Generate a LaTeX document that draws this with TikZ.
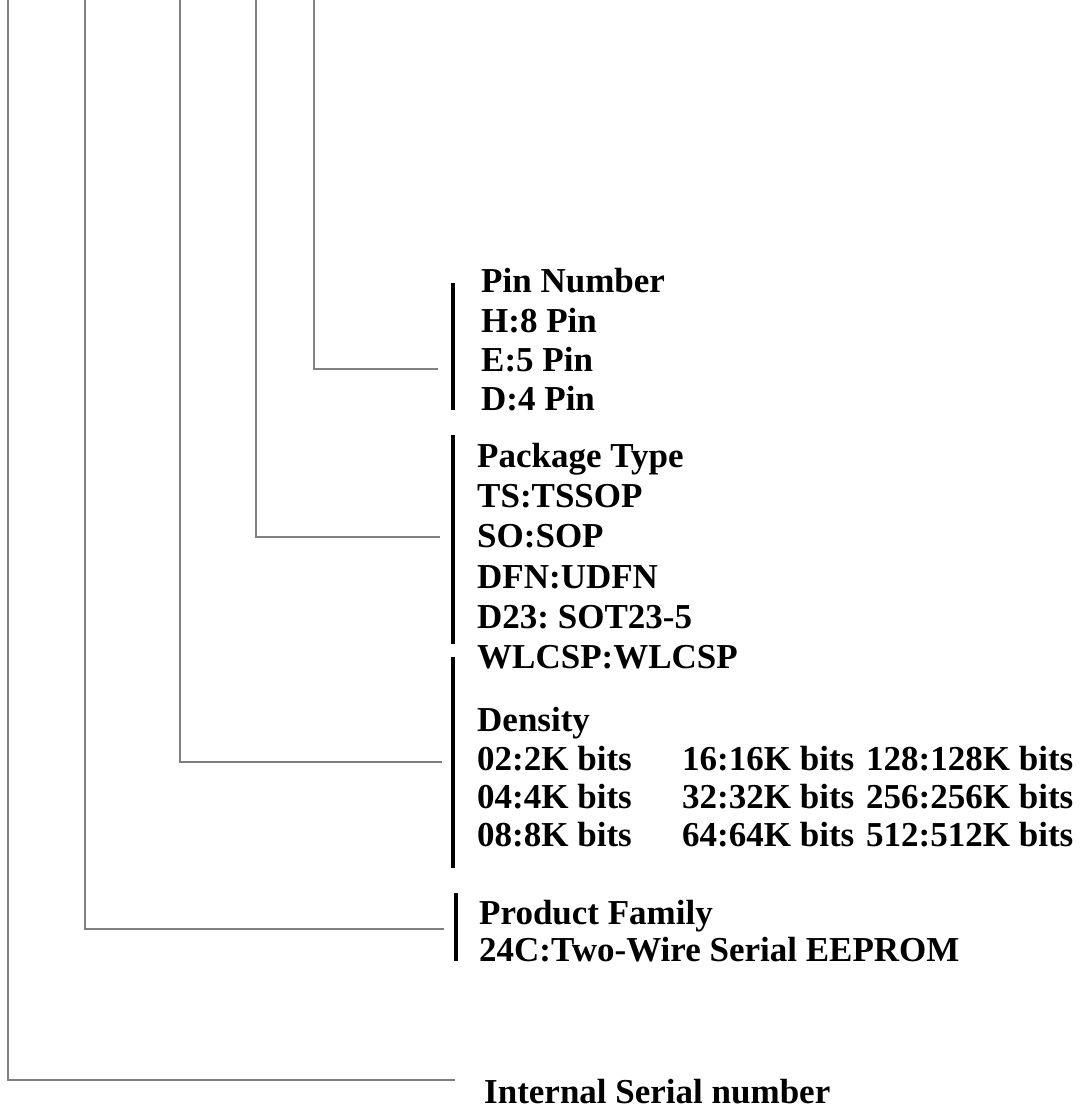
\documentclass[tikz,border=0pt]{standalone}
\usepackage{fontspec}
\setmainfont{Liberation Serif}
\usetikzlibrary{positioning}
\frenchspacing

\begin{document}
\begin{tikzpicture}[
    x=1pt, y=-1pt,
    entry/.style={anchor=base west, inner sep=0pt, font=\fontsize{35}{40}\selectfont\bfseries},
    bracket/.style={line width=3.5pt, black},
    leader/.style={line width=2pt, black!50}
]
\useasboundingbox (0,0) rectangle (1082,1115);

% Pin Number
\node [entry] (pin_title) at (481,292) {Pin Number};
\node [entry] (pin_h) at (481,332) {H:8 Pin};
\node [entry] (pin_e) at (481,371) {E:5 Pin};
\node [entry] (pin_d) at (481,410) {D:4 Pin};

% Package Type
\node [entry] (pkg_title) at (477,467) {Package Type};
\node [entry] (pkg_ts) at (477,507) {TS:TSSOP};
\node [entry] (pkg_so) at (477,547) {SO:SOP};
\node [entry] (pkg_dfn) at (477,588) {DFN:UDFN};
\node [entry] (pkg_d23) at (477,628) {D23: SOT23-5};
\node [entry] (pkg_wl) at (477,668) {WLCSP:WLCSP};

% Density
\node [entry] (den_title) at (477,731) {Density};
\node [entry] (den_02) at (477,770) {02:2K bits};
\node [entry] (den_04) at (477,808) {04:4K bits};
\node [entry] (den_08) at (477,846) {08:8K bits};
\node [entry] (den_16) at (682,770) {16:16K bits};
\node [entry] (den_32) at (682,808) {32:32K bits};
\node [entry] (den_64) at (682,846) {64:64K bits};
\node [entry] (den_128) at (866,770) {128:128K bits};
\node [entry] (den_256) at (866,808) {256:256K bits};
\node [entry] (den_512) at (866,846) {512:512K bits};

% Product Family
\node [entry] (fam_title) at (479,924) {Product Family};
\node [entry] (fam_24c) at (479,961) {24C:Two-Wire Serial EEPROM};

% Internal Serial number
\node [entry] (serial) at (484,1103) {Internal Serial number};

% Bracket ends and tap points
\coordinate (pin_top) at (453,283);
\coordinate (pin_bot) at (453,410);
\coordinate (pkg_top) at (453,435);
\coordinate (pkg_bot) at (453,644);
\coordinate (den_top) at (453,657);
\coordinate (den_bot) at (453,868);
\coordinate (fam_top) at (456,893);
\coordinate (fam_bot) at (456,961);

\coordinate (pin_tap) at (438,369);
\coordinate (pkg_tap) at (440,537);
\coordinate (den_tap) at (442,762);
\coordinate (fam_tap) at (444,929);
\coordinate (serial_tap) at (455,1080);

% Leader tops
\coordinate (pin_lead) at (314,0);
\coordinate (pkg_lead) at (256,0);
\coordinate (den_lead) at (180,0);
\coordinate (fam_lead) at (85,0);
\coordinate (serial_lead) at (8,0);

% Brackets
\draw [bracket] (pin_top) -- (pin_bot);
\draw [bracket] (pkg_top) -- (pkg_bot);
\draw [bracket] (den_top) -- (den_bot);
\draw [bracket] (fam_top) -- (fam_bot);

% Leaders
\draw [leader] (pin_lead) |- (pin_tap);
\draw [leader] (pkg_lead) |- (pkg_tap);
\draw [leader] (den_lead) |- (den_tap);
\draw [leader] (fam_lead) |- (fam_tap);
\draw [leader] (serial_lead) |- (serial_tap);

\end{tikzpicture}
\end{document}
